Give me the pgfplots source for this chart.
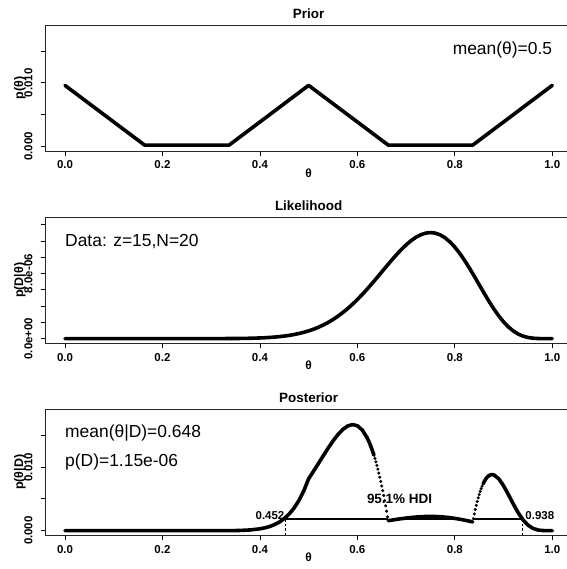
\documentclass[border=0pt]{standalone}
\usepackage{pgfplots}
\pgfplotsset{compat=1.18}
\usepackage{fontspec}
\setmainfont{Liberation Sans}
\newcommand{\tickfont}{\fontsize{11.5}{11.5}\bfseries\selectfont}
\newcommand{\annfont}{\fontsize{17.5}{17.5}\selectfont}
\pgfplotsset{
  kr/.style={
    scale only axis,
    width=526.3bp, height=126bp,
    anchor=north west,
    xmin=-0.04, xmax=1.04,
    clip=false,
    axis line style={line width=0.8bp, black!85},
    tick align=outside, tick pos=left,
    major tick length=5bp,
    every tick/.style={line width=0.8bp, black},
    xtick={0,0.2,0.4,0.6,0.8,1},
    xticklabels={0.0,0.2,0.4,0.6,0.8,1.0},
    xticklabel style={anchor=center, yshift=-9bp, font=\tickfont},
    scaled y ticks=false,
    yticklabels={},
    xlabel={θ},
    xlabel style={at={(axis description cs:0.5,0)}, anchor=center, yshift=-22bp, font=\fontsize{12}{12}\bfseries\selectfont},
    ylabel style={at={(axis description cs:-0.0485,0.5)}, anchor=center, font=\fontsize{12.5}{12.5}\bfseries\selectfont},
    title style={at={(axis description cs:0.5,1)}, anchor=base, yshift=0.5bp, font=\fontsize{13.5}{13.5}\bfseries\selectfont},
  },
  curve/.style={line width=3.6bp, black, line join=round, line cap=round},
}
\begin{document}
\begin{tikzpicture}
% ---------------- Prior ----------------
\begin{axis}[kr, at={(45.5bp,-25bp)}, title={Prior}, ylabel={p(θ)},
  ymin=-0.000735, ymax=0.019106, ytick={0,0.005,0.01,0.015}]
\addplot[curve] coordinates {(0,0.0096)(0.16333,0.000192)(0.33667,0.000192)(0.5,0.0096)(0.66333,0.000192)(0.83667,0.000192)(1,0.0096)};
\node[anchor=east, inner sep=0pt, font=\annfont] at (axis cs:1.0,0.01525) {mean(θ)=0.5};
\node[rotate=90, anchor=base, inner sep=0pt, font=\tickfont] at ([xshift=-13bp]axis cs:-0.04,0) {0.000};
\node[rotate=90, anchor=base, inner sep=0pt, font=\tickfont] at ([xshift=-13bp]axis cs:-0.04,0.01) {0.010};
\end{axis}
% ---------------- Likelihood ----------------
\begin{axis}[kr, at={(45.5bp,-217.3bp)}, title={Likelihood}, ylabel={p(D|θ)},
  ymin=-5.742e-7, ymax=1.49292e-5, ytick={0,2e-6,4e-6,6e-6,8e-6,1e-5,1.2e-5,1.4e-5}]
\addplot[curve] coordinates {(0,0)(0.1,0)(0.2,0)(0.3,2.4e-9)(0.35,1.68e-8)(0.36,2.37e-8)(0.38,4.56e-8)(0.40,8.35e-8)(0.41,1.112e-7)(0.42,1.465e-7)(0.43,1.912e-7)(0.44,2.470e-7)(0.45,3.162e-7)(0.46,4.012e-7)(0.47,5.045e-7)(0.48,6.290e-7)(0.49,7.776e-7)(0.50,9.537e-7)(0.51,1.1602e-6)(0.52,1.4004e-6)(0.53,1.6773e-6)(0.54,1.9938e-6)(0.55,2.3523e-6)(0.56,2.7547e-6)(0.57,3.2022e-6)(0.58,3.6954e-6)(0.59,4.2334e-6)(0.60,4.8145e-6)(0.61,5.4358e-6)(0.62,6.0924e-6)(0.63,6.7780e-6)(0.64,7.4851e-6)(0.65,8.2040e-6)(0.66,8.9237e-6)(0.67,9.6312e-6)(0.68,1.0313e-5)(0.69,1.0953e-5)(0.70,1.1536e-5)(0.71,1.2046e-5)(0.72,1.2467e-5)(0.73,1.2783e-5)(0.74,1.2982e-5)(0.75,1.3050e-5)(0.76,1.2979e-5)(0.77,1.2764e-5)(0.78,1.2403e-5)(0.79,1.1899e-5)(0.80,1.1259e-5)(0.81,1.0496e-5)(0.82,9.6286e-6)(0.83,8.6776e-6)(0.84,7.6697e-6)(0.85,6.6333e-6)(0.86,5.5988e-6)(0.87,4.5973e-6)(0.88,3.6571e-6)(0.89,2.8042e-6)(0.90,2.0589e-6)(0.91,1.4349e-6)(0.92,9.381e-7)(0.93,5.659e-7)(0.94,3.074e-7)(0.95,1.448e-7)(0.96,5.55e-8)(0.97,1.54e-8)(0.98,2.4e-9)(0.99,0)(1,0)};
\node[anchor=west, inner sep=0pt, font=\annfont] at (axis cs:0.0,1.2e-5) {Data: z=15,N=20};
\node[rotate=90, anchor=base, inner sep=0pt, font=\tickfont] at ([xshift=-13bp]axis cs:-0.04,0) {0.0e+00};
\node[rotate=90, anchor=base, inner sep=0pt, font=\tickfont] at ([xshift=-13bp]axis cs:-0.04,8e-6) {8.0e-06};
\end{axis}
% ---------------- Posterior ----------------
\begin{axis}[kr, at={(45.5bp,-409.3bp)}, title={Posterior}, ylabel={p(θ|D)},
  ymin=-0.000735, ymax=0.019106, ytick={0,0.005,0.01,0.015}]
\addplot[curve] coordinates {(0,0)(0.1,0)(0.2,0)(0.3,0)(0.34,0.000004)(0.35,0.0000144)(0.36,0.0000325)(0.38,0.0001095)(0.40,0.0002864)(0.41,0.0004387)(0.42,0.0006533)(0.43,0.0009508)(0.44,0.0013557)(0.45,0.0018982)(0.46,0.0026149)(0.47,0.0035477)(0.48,0.0047470)(0.49,0.0062686)(0.50,0.0081789)(0.51,0.0093529)(0.52,0.0105686)(0.53,0.0117953)(0.54,0.0129951)(0.55,0.0141213)(0.56,0.0151196)(0.57,0.0159280)(0.58,0.0164797)(0.59,0.0167006)(0.60,0.0165157)(0.61,0.0158499)(0.62,0.0146295)(0.625,0.013797)(0.63,0.0127882)(0.634,0.011868)};
\addplot[only marks, mark=*, mark size=1.45bp, mark options={line width=0.2bp, fill=black, draw=black}] coordinates {(0.636,0.011365)(0.638,0.010833)(0.640,0.0102708)(0.642,0.0096830)(0.644,0.0090656)(0.646,0.0084186)(0.648,0.0077419)(0.650,0.0070358)(0.652,0.0063001)(0.654,0.0055348)(0.656,0.0047399)(0.658,0.0039154)(0.660,0.0030612)(0.662,0.0021768)};
\addplot[curve] coordinates {(0.6633,0.0015706)(0.67,0.0016519)(0.68,0.0017689)(0.69,0.0018787)(0.70,0.0019787)(0.71,0.0020661)(0.72,0.0021383)(0.73,0.0021925)(0.74,0.0022267)(0.75,0.0022383)(0.76,0.0022262)(0.77,0.0021893)(0.78,0.0021274)(0.79,0.0020409)(0.80,0.0019311)(0.81,0.0018003)(0.82,0.0016515)(0.83,0.0014884)(0.8367,0.0013725)};
\addplot[only marks, mark=*, mark size=1.45bp, mark options={line width=0.2bp, fill=black, draw=black}] coordinates {(0.838,0.0018901)(0.840,0.0026310)(0.842,0.0033279)(0.844,0.0039821)(0.846,0.0045936)(0.848,0.0051625)(0.850,0.0056887)(0.852,0.0061727)(0.854,0.0066140)(0.856,0.0070127)};
\addplot[curve] coordinates {(0.858,0.0073688)(0.860,0.0076825)(0.865,0.0083067)(0.87,0.0086739)(0.875,0.0088290)(0.88,0.0087817)(0.89,0.0081766)(0.90,0.0070629)(0.91,0.0056606)(0.92,0.0041835)(0.93,0.0028148)(0.94,0.0016872)(0.95,0.0008693)(0.96,0.0003617)(0.97,0.0001083)(0.98,0.000018)(0.99,0)(1,0)};
% HDI
\addplot[line width=1.8bp, black] coordinates {(0.452,0.00185)(0.6627,0.00185)};
\addplot[line width=1.8bp, black] coordinates {(0.687,0.00185)(0.806,0.00185)};
\addplot[line width=1.8bp, black] coordinates {(0.8378,0.00185)(0.938,0.00185)};
\addplot[line width=0.8bp, black, dash pattern=on 2.5bp off 2bp] coordinates {(0.452,-0.000735)(0.452,0.00185)};
\addplot[line width=0.8bp, black, dash pattern=on 2.5bp off 2bp] coordinates {(0.938,-0.000735)(0.938,0.00185)};
\node[anchor=east, inner sep=0pt, font=\tickfont] at (axis cs:0.4505,0.00237) {0.452};
\node[anchor=west, inner sep=0pt, font=\tickfont] at (axis cs:0.9445,0.00237) {0.938};
\node[anchor=center, inner sep=0pt, font=\fontsize{13.5}{13.5}\bfseries\selectfont] at (axis cs:0.6865,0.0050) {95.1\% HDI};
\node[anchor=west, inner sep=0pt, font=\annfont] at (axis cs:0.0,0.0153) {mean(θ|D)=0.648};
\node[anchor=west, inner sep=0pt, font=\annfont] at (axis cs:0.0,0.01088) {p(D)=1.15e-06};
\node[rotate=90, anchor=base, inner sep=0pt, font=\tickfont] at ([xshift=-13bp]axis cs:-0.04,0) {0.000};
\node[rotate=90, anchor=base, inner sep=0pt, font=\tickfont] at ([xshift=-13bp]axis cs:-0.04,0.01) {0.010};
\end{axis}
\pgfresetboundingbox
\path[use as bounding box] (0,0) rectangle (567bp,-569bp);
\end{tikzpicture}
\end{document}
